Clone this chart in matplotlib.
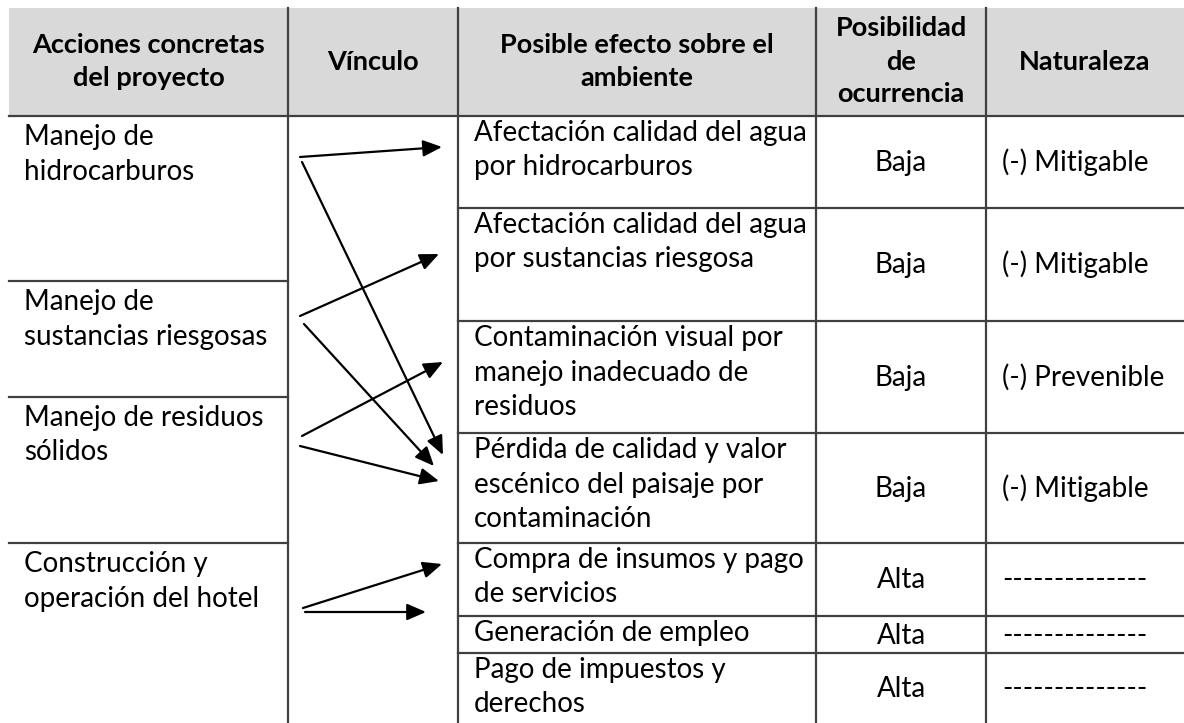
import matplotlib
matplotlib.use("Agg")
import matplotlib.pyplot as plt

# table content
headers = ["Acciones concretas\ndel proyecto", "Vínculo", "Posible efecto sobre el\nambiente",
           "Posibilidad\nde\nocurrencia", "Naturaleza"]
actions = ["Manejo de\nhidrocarburos", "Manejo de\nsustancias riesgosas",
           "Manejo de residuos\nsólidos", "Construcción y\noperación del hotel"]
effects = ["Afectación calidad del agua\npor hidrocarburos",
           "Afectación calidad del agua\npor sustancias riesgosa",
           "Contaminación visual por\nmanejo inadecuado de\nresiduos",
           "Pérdida de calidad y valor\nescénico del paisaje por\ncontaminación",
           "Compra de insumos y pago\nde servicios",
           "Generación de empleo",
           "Pago de impuestos y\nderechos"]
posibilidad = ["Baja", "Baja", "Baja", "Baja", "Alta", "Alta", "Alta"]
naturaleza = ["(-) Mitigable", "(-) Mitigable", "(-) Prevenible", "(-) Mitigable",
              "-" * 14, "-" * 14, "-" * 14]
# links: (action index, effect index)
links = [(0, 0), (0, 3), (1, 1), (1, 3), (2, 2), (2, 3), (3, 4), (3, 5)]

# layout (pixels)
W, H = 1184, 723
col_x = [9, 288, 458, 816, 986, W]
head_top, head_bot = 8, 116
action_rows = [116, 281, 397, 543, H]
effect_rows = [116, 208, 321, 433, 543, 616, 653, H]
line_gap = 34.5
fs = 20
fs_head = 19.5
font = "Lato"
line_col = "#404040"
# arrow anchors: offsets from row tops, and x ends
src_off = [41, 46, 35, 43, 39, 49, 65, 69]
dst_off = [31, 22, 46, 33, 41, 48, 21, -4]
x_start = [300, 302, 300, 304, 302, 300, 303, 305]
x_end = [442, 443, 439, 434, 443, 439, 442, 426]

fig = plt.figure(figsize=(W / 100, H / 100), dpi=100)
ax = fig.add_axes([0, 0, 1, 1])
ax.set_xlim(0, W)
ax.set_ylim(H, 0)
ax.axis("off")

# header
ax.add_patch(plt.Rectangle((col_x[0], head_top), W - col_x[0], head_bot - head_top,
                           facecolor="#d9d9d9", edgecolor="none", zorder=0))
hc = (head_top + head_bot) / 2 - 1.5
for i, h in enumerate(headers):
    lines = h.split("\n")
    cx = (col_x[i] + col_x[i + 1]) / 2
    y0 = hc - (len(lines) - 1) * 33 / 2 + 9
    for j, ln in enumerate(lines):
        ax.text(cx, y0 + j * 33, ln, ha="center", va="baseline", fontsize=fs_head,
                fontweight="bold", family=font, color="black")

# grid lines
lw = 1.6
ax.plot([col_x[0], W], [head_bot, head_bot], color=line_col, lw=lw)
for x in col_x[1:-1]:
    ax.plot([x, x], [head_top, H], color=line_col, lw=lw)
for y in action_rows[1:-1]:
    ax.plot([col_x[0], col_x[1]], [y, y], color=line_col, lw=lw)
for y in effect_rows[1:-1]:
    ax.plot([col_x[2], W], [y, y], color=line_col, lw=lw)

# action texts
for i, a in enumerate(actions):
    for j, ln in enumerate(a.split("\n")):
        ax.text(24, action_rows[i] + 29 + j * line_gap, ln, ha="left", va="baseline",
                fontsize=fs, family=font, color="black")

# effect texts and attributes
for i, e in enumerate(effects):
    top, bot = effect_rows[i], effect_rows[i + 1]
    for j, ln in enumerate(e.split("\n")):
        ax.text(474, top + 25 + j * line_gap, ln, ha="left", va="baseline",
                fontsize=fs, family=font, color="black")
    yc = (top + bot) / 2 + 9
    ax.text((col_x[3] + col_x[4]) / 2, yc, posibilidad[i], ha="center", va="baseline",
            fontsize=fs, family=font, color="black")
    ax.text(1002, yc, naturaleza[i], ha="left", va="baseline",
            fontsize=fs, family=font, color="black")

# arrows
for k, (a, e) in enumerate(links):
    ys = action_rows[a] + src_off[k]
    ye = effect_rows[e] + dst_off[k]
    ax.annotate("", xy=(x_end[k], ye), xytext=(x_start[k], ys),
                arrowprops=dict(arrowstyle="-|>,head_length=1.15,head_width=0.5",
                                mutation_scale=10, lw=1.6, color="black",
                                shrinkA=0, shrinkB=0))

fig.savefig("out.png", dpi=100)
